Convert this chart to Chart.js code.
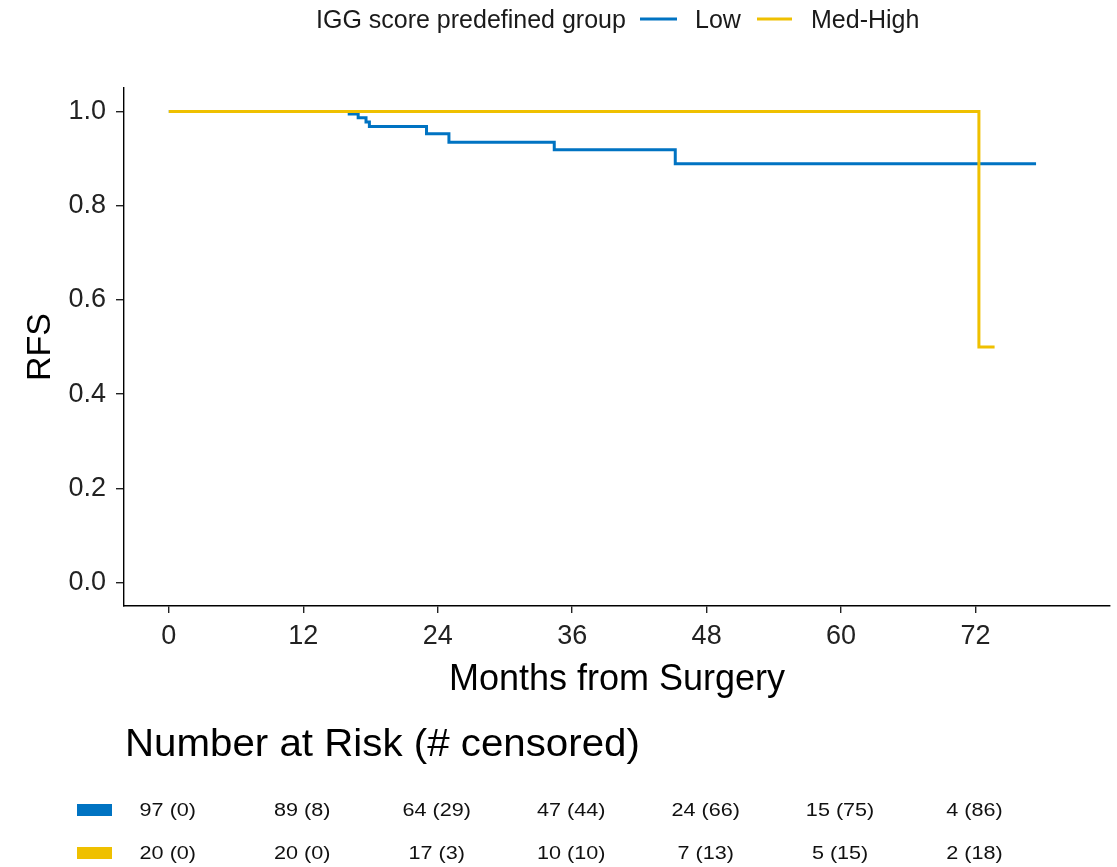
<!DOCTYPE html>
<html>
<head>
<meta charset="utf-8">
<script src="https://cdn.jsdelivr.net/npm/chart.js@4.4.1/dist/chart.umd.min.js"></script>
<style>
  html, body { margin: 0; padding: 0; background: #fff; }
  #wrap { width: 1117px; height: 867px; position: relative; }
</style>
</head>
<body>
<div id="wrap"><canvas id="km"></canvas></div>
<script>
// months shown on the x axis and in the risk table
const timeTicks = [0, 12, 24, 36, 48, 60, 72];
const yTicks = [0, 0.2, 0.4, 0.6, 0.8, 1.0];

// Kaplan-Meier steps
const lowTimes = [0, 16.1, 16.9, 17.6, 17.9, 23.0, 25.0, 34.4, 45.2, 77.4];
const lowSurv = [1, 0.995, 0.987, 0.978, 0.968, 0.953, 0.935, 0.919, 0.889, 0.889];
const highTimes = [0, 72.3, 73.7];
const highSurv = [1, 0.5, 0.5];

// number at risk / censored table
const lowAtRisk = [97, 89, 64, 47, 24, 15, 4];
const lowCensored = [0, 8, 29, 44, 66, 75, 86];
const highAtRisk = [20, 20, 17, 10, 7, 5, 2];
const highCensored = [0, 0, 3, 10, 13, 15, 18];

const groups = ['Low', 'Med-High'];
const colors = ['#0073C2', '#EFC000'];
const FONT = "'Liberation Sans', Arial, sans-serif";

const toPoints = (xs, ys) => xs.map((x, i) => ({ x, y: ys[i] }));

// text drawn a little wider than the font, like the original export
const wideText = (ctx, text, x, y, sx) => {
  ctx.save();
  ctx.translate(x, y);
  ctx.scale(sx, 1);
  ctx.fillText(text, 0, 0);
  ctx.restore();
};

// legend on top + risk table under the plot
const extras = {
  id: 'extras',
  afterDraw(chart) {
    const { ctx } = chart;
    const xs = chart.scales.x;
    ctx.save();
    ctx.fillStyle = '#1a1a1a';
    ctx.textBaseline = 'middle';

    // legend
    ctx.font = `25px ${FONT}`;
    ctx.textAlign = 'left';
    ctx.fillText('IGG score predefined group', 316, 21);
    ctx.lineWidth = 3;
    ctx.strokeStyle = colors[0];
    ctx.beginPath(); ctx.moveTo(640, 19); ctx.lineTo(677, 19); ctx.stroke();
    ctx.fillText(groups[0], 695, 21);
    ctx.strokeStyle = colors[1];
    ctx.beginPath(); ctx.moveTo(757, 19); ctx.lineTo(792, 19); ctx.stroke();
    ctx.fillText(groups[1], 811, 21);

    // risk table
    ctx.fillStyle = '#000';
    ctx.font = `38px ${FONT}`;
    wideText(ctx, 'Number at Risk (# censored)', 125, 746, 1.06);

    const rows = [
      { y: 810, atRisk: lowAtRisk, cens: lowCensored, color: colors[0] },
      { y: 853, atRisk: highAtRisk, cens: highCensored, color: colors[1] },
    ];
    ctx.font = `18px ${FONT}`;
    ctx.textAlign = 'center';
    rows.forEach((r) => {
      ctx.fillStyle = r.color;
      ctx.fillRect(77, r.y - 6, 35, 12);
      ctx.fillStyle = '#111';
      timeTicks.forEach((t, i) => {
        wideText(ctx, `${r.atRisk[i]} (${r.cens[i]})`, xs.getPixelForValue(t) - 1, r.y + 1, 1.2);
      });
    });
    ctx.restore();
  },
};

new Chart(document.getElementById('km'), {
  type: 'line',
  plugins: [extras],
  data: {
    datasets: [
      {
        label: groups[0],
        data: toPoints(lowTimes, lowSurv),
        borderColor: colors[0],
        borderWidth: 3,
        stepped: true,
        pointRadius: 0,
        fill: false,
        order: 1,
      },
      {
        label: groups[1],
        data: toPoints(highTimes, highSurv),
        borderColor: colors[1],
        borderWidth: 3,
        stepped: true,
        pointRadius: 0,
        fill: false,
        order: 0,
      },
    ],
  },
  options: {
    responsive: true,
    maintainAspectRatio: false,
    animation: false,
    layout: { padding: { top: 88, right: 7, bottom: 161, left: 0 } },
    plugins: {
      legend: { display: false },
      tooltip: { enabled: false },
    },
    scales: {
      x: {
        type: 'linear',
        min: -4,
        max: 84,
        afterBuildTicks(s) { s.ticks = timeTicks.map((v) => ({ value: v })); },
        afterFit(s) { s.height = 100; },
        border: { display: true, color: '#000', width: 1.4 },
        grid: { display: true, drawOnChartArea: false, drawTicks: true, tickLength: 7, color: '#222', lineWidth: 1.4 },
        ticks: { color: '#222', padding: 7, maxRotation: 0, font: { size: 27, family: FONT } },
        title: {
          display: true,
          text: 'Months from Surgery',
          color: '#000',
          font: { size: 36, family: FONT },
          padding: { top: 0, bottom: 4 },
        },
      },
      y: {
        min: -0.05,
        max: 1.05,
        afterBuildTicks(s) { s.ticks = yTicks.map((v) => ({ value: v })); },
        afterFit(s) { s.width = 124; },
        border: { display: true, color: '#000', width: 1.4 },
        grid: { display: true, drawOnChartArea: false, drawTicks: true, tickLength: 8, color: '#222', lineWidth: 1.4 },
        ticks: {
          color: '#222',
          padding: 10,
          font: { size: 27, family: FONT },
          callback: (v) => v.toFixed(1),
        },
        title: {
          display: true,
          text: 'RFS',
          color: '#000',
          font: { size: 34, family: FONT },
          padding: { top: 20, bottom: 0 },
        },
      },
    },
  },
});
</script>
</body>
</html>
